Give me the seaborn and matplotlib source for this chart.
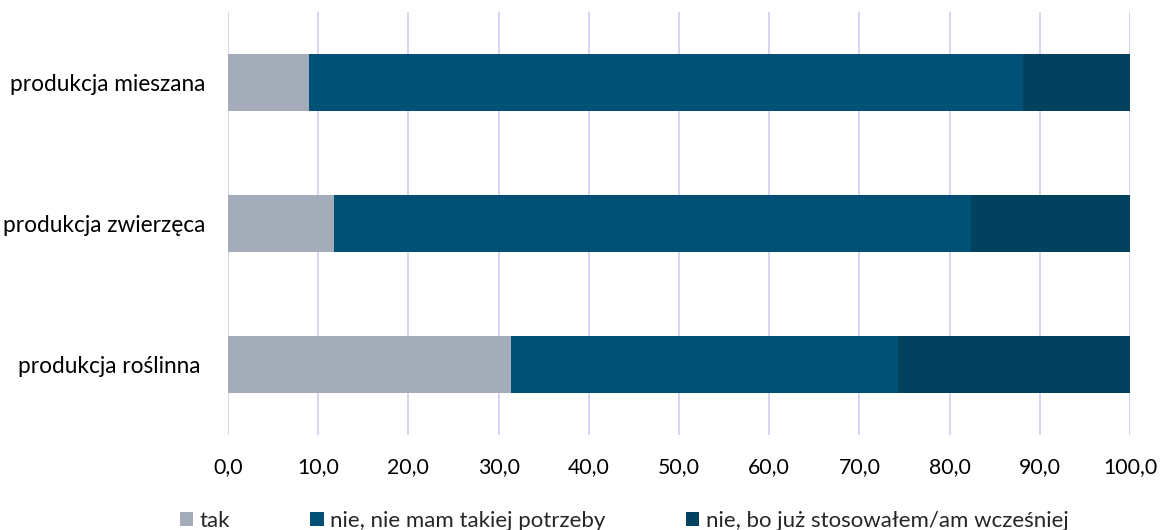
import pandas as pd
import matplotlib
matplotlib.use("Agg")
import matplotlib.pyplot as plt
from matplotlib.patches import Patch
import seaborn as sns

sns.set_theme(style="white")
plt.rcParams["font.family"] = ["Lato", "DejaVu Sans"]

# data, top row first
categories = ["produkcja mieszana", "produkcja zwierzęca", "produkcja roślinna "]
tak = [9.0, 11.8, 31.4]
nie_potrzeby = [79.1, 70.6, 42.9]
nie_wczesniej = [11.9, 17.6, 25.7]
series_names = ["tak", "nie, nie mam takiej potrzeby", "nie, bo już stosowałem/am wcześniej"]
colors = ["#A3ACB8", "#005175", "#02425F"]

df = pd.DataFrame({"cat": categories, "tak": tak,
                   "nie_potrzeby": nie_potrzeby, "nie_wczesniej": nie_wczesniej})
df["c1"] = df["tak"]
df["c2"] = df["c1"] + df["nie_potrzeby"]
df["c3"] = df["c2"] + df["nie_wczesniej"]

fig = plt.figure(figsize=(11.61, 5.30), dpi=100)
ax = fig.add_axes([228 / 1161, 1 - 435 / 530, (1130 - 228) / 1161, (435 - 12) / 530])

# stacked bars: draw cumulative totals, longest first
for col, c in zip(["c3", "c2", "c1"], colors[::-1]):
    sns.barplot(data=df, x=col, y="cat", color=c, orient="h", width=0.4,
                linewidth=0, saturation=1, ax=ax, zorder=3)

ax.set_xlim(0, 100)
ax.set_ylim(2.5, -0.5)
ax.set_xticks(range(0, 101, 10))
ax.set_xticklabels([f"{v},0" for v in range(0, 101, 10)])
ax.grid(axis="x", color="#D9D4EE", linewidth=1.4, zorder=0)
ax.set_axisbelow(True)
ax.set_xlabel("")
ax.set_ylabel("")
for s in ax.spines.values():
    s.set_visible(False)
ax.tick_params(axis="y", length=0, pad=16, labelsize=16.3, labelcolor="#000000")
ax.tick_params(axis="x", length=0, pad=16, labelsize=15.3, labelcolor="#000000")

handles = [Patch(facecolor=c, edgecolor="none") for c in colors]
fig.legend(handles, series_names, loc="center", bbox_to_anchor=(624 / 1161, 1 - 521 / 530),
           ncol=3, frameon=False, fontsize=16, handlelength=0.6, handleheight=0.6,
           handletextpad=0.3, columnspacing=3.6, borderpad=0)

fig.savefig("out.png", dpi=100)
plt.close()
